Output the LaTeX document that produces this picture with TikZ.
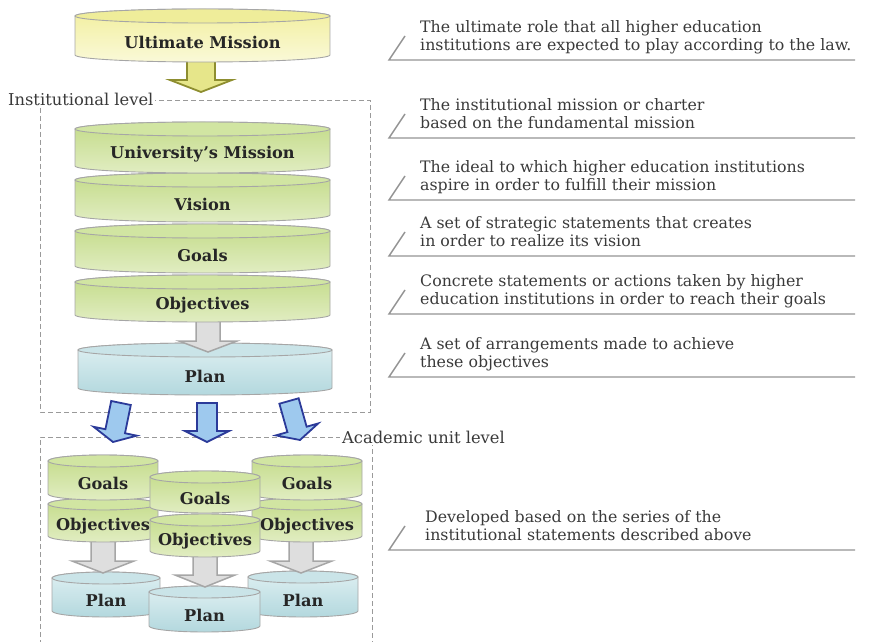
\documentclass[tikz,border=0pt]{standalone}
\usepackage{fontspec}
\setmainfont{DejaVu Serif}
\usetikzlibrary{calc}

\definecolor{rimgrey}{HTML}{A6A6A6}
\definecolor{boxgrey}{HTML}{9A9A9A}
\definecolor{notegrey}{HTML}{3A3A3A}
\definecolor{yellowdark}{HTML}{F2EF9E}
\definecolor{yellowlight}{HTML}{FAF9D8}
\definecolor{yellowtop}{HTML}{EFED9A}
\definecolor{greendark}{HTML}{C3DB88}
\definecolor{greenlight}{HTML}{E1EDC2}
\definecolor{greentop}{HTML}{D1E5A2}
\definecolor{bluelight}{HTML}{DFF0F2}
\definecolor{bluedark}{HTML}{B3D8DE}
\definecolor{bluetop}{HTML}{CAE4E8}
\definecolor{olive}{HTML}{8E8E30}
\definecolor{olivefill}{HTML}{E6E68A}
\definecolor{navy}{HTML}{2B3A99}
\definecolor{skyfill}{HTML}{9EC9EE}

\tikzset{
  yellow body/.style={draw=rimgrey, line width=0.9pt, top color=yellowdark, bottom color=yellowlight},
  yellow top/.style={draw=rimgrey, line width=0.9pt, fill=yellowtop},
  green body/.style={draw=rimgrey, line width=0.9pt, top color=greendark, bottom color=greenlight},
  green top/.style={draw=rimgrey, line width=0.9pt, fill=greentop},
  blue body/.style={draw=rimgrey, line width=0.9pt, top color=bluelight, bottom color=bluedark},
  blue top/.style={draw=rimgrey, line width=0.9pt, fill=bluetop},
  drum text/.style={font=\bfseries\fontsize{16.2}{18}\selectfont, text=black!85, inner sep=0pt},
  note text/.style={font=\fontsize{15.8}{18.5}\selectfont, text=notegrey, align=left, inner sep=0pt},
  leader/.style={draw=gray!85, line width=1.4pt},
  level box/.style={draw=boxgrey, line width=0.9pt, dash pattern=on 5pt off 3pt},
  level label/.style={fill=white, inner sep=2pt, font=\fontsize{16.3}{18.5}\selectfont, text=notegrey},
  grey arrow/.style={draw=rimgrey, fill=black!13, line width=1.5pt},
  olive arrow/.style={draw=olive, fill=olivefill, line width=1.8pt},
  sky arrow/.style={draw=navy, fill=skyfill, line width=1.8pt}
}

% drum: name, left, right, top y, bottom y (from the top edge), ry, colour, text
\newcommand{\drum}[8]{%
  \pgfmathsetmacro\drL{#2}\pgfmathsetmacro\drR{#3}%
  \pgfmathsetmacro\drT{641-#4}\pgfmathsetmacro\drB{641-#5}%
  \pgfmathsetmacro\drX{(#3-#2)/2}\pgfmathsetmacro\drC{(#3+#2)/2}%
  \pgfmathsetmacro\drM{641-(#4+#5)/2-#6}%
  \path[#7 body] (\drL,\drT) -- (\drL,\drB)
    arc[start angle=180, end angle=360, x radius=\drX, y radius=#6]
    -- (\drR,\drT)
    arc[start angle=0, end angle=180, x radius=\drX, y radius=#6] -- cycle;
  \path[#7 top] (\drC,\drT) ellipse[x radius=\drX, y radius=#6];
  \node[drum text] (#1) at (\drC,\drM) {#8};
}

% block arrow: style, tail, tip, shaft half width, head half width, head length
\newcommand{\blockarrow}[6]{%
  \coordinate (ab) at ($(#3)!#6pt!(#2)$);
  \path[#1] ($(#2)!#4pt!90:(#3)$) -- ($(ab)!#4pt!90:(#3)$) -- ($(ab)!#5pt!90:(#3)$) -- (#3)
    -- ($(ab)!#5pt!-90:(#3)$) -- ($(ab)!#4pt!-90:(#3)$) -- ($(#2)!#4pt!-90:(#3)$) -- cycle;
}

% explanation on the right: name, line y, text x, first line, second line
\newcommand{\explain}[5]{%
  \draw[leader] (405,#2+24) -- (389,#2) -- (855,#2);
  \node[note text, anchor=west] (#1) at (#3,#2+22) {\strut #4\\\strut #5};
}

\begin{document}
\begin{tikzpicture}[x=1pt, y=1pt, line join=miter]
  \useasboundingbox (0,0) rectangle (886,641);

  % levels
  \draw[level box] (40,541) rectangle (370,229);
  \node[level label, anchor=west] (inst) at (6,542) {Institutional level};
  \draw[level box] (40,-20) -- (40,204) -- (372,204) -- (372,-20);
  \node[level label, anchor=west] (acad) at (340,204) {Academic unit level};

  % ultimate mission
  \coordinate (um-tail) at (201,583);
  \coordinate (um-tip) at (201,549);
  \blockarrow{olive arrow}{um-tail}{um-tip}{14}{31}{12}
  \drum{ultimate}{75}{330}{16}{55}{7}{yellow}{Ultimate Mission}

  % institutional stack, bottom up
  \drum{plan}{78}{332}{350}{388}{7}{blue}{Plan}
  \coordinate (obj-tail) at (208,323);
  \coordinate (obj-tip) at (208,289);
  \blockarrow{grey arrow}{obj-tail}{obj-tip}{12}{29}{11}
  \drum{objectives}{75}{330}{282}{315}{7}{green}{Objectives}
  \drum{goals}{75}{330}{231}{266}{7}{green}{Goals}
  \drum{vision}{75}{330}{180}{215}{7}{green}{Vision}
  \drum{mission}{75}{330}{129}{166}{7}{green}{University’s Mission}

  % down to the academic units
  \coordinate (l-tail) at (121,238);
  \coordinate (l-tip) at (113,199);
  \coordinate (m-tail) at (207,238);
  \coordinate (m-tip) at (207,199);
  \coordinate (r-tail) at (289,240);
  \coordinate (r-tip) at (300,201);
  \blockarrow{sky arrow}{l-tail}{l-tip}{10}{22}{11}
  \blockarrow{sky arrow}{m-tail}{m-tip}{10}{22}{11}
  \blockarrow{sky arrow}{r-tail}{r-tip}{10}{22}{11}

  % left unit
  \drum{plan-l}{52}{160}{578}{611}{6}{blue}{Plan}
  \coordinate (obj-l-tail) at (103,105);
  \coordinate (obj-l-tip) at (103,68);
  \blockarrow{grey arrow}{obj-l-tail}{obj-l-tip}{12}{31}{12}
  \drum{objectives-l}{48}{158}{504}{536}{6}{green}{Objectives}
  \drum{goals-l}{48}{158}{461}{494}{6}{green}{Goals}

  % right unit
  \drum{plan-r}{248}{358}{577}{611}{6}{blue}{Plan}
  \coordinate (obj-r-tail) at (301,105);
  \coordinate (obj-r-tip) at (301,68);
  \blockarrow{grey arrow}{obj-r-tail}{obj-r-tip}{12}{31}{12}
  \drum{objectives-r}{252}{362}{504}{536}{6}{green}{Objectives}
  \drum{goals-r}{252}{362}{461}{494}{6}{green}{Goals}

  % middle unit
  \drum{plan-m}{149}{260}{592}{626}{6}{blue}{Plan}
  \coordinate (obj-m-tail) at (205,90);
  \coordinate (obj-m-tip) at (205,54);
  \blockarrow{grey arrow}{obj-m-tail}{obj-m-tip}{12}{30}{12}
  \drum{objectives-m}{150}{260}{520}{551}{6}{green}{Objectives}
  \drum{goals-m}{150}{260}{477}{507}{6}{green}{Goals}

  % explanations
  \explain{ultimate-note}{581}{420}{The ultimate role that all higher education}{institutions are expected to play according to the law.}
  \explain{mission-note}{503}{420}{The institutional mission or charter}{based on the fundamental mission}
  \explain{vision-note}{441}{420}{The ideal to which higher education institutions}{aspire in order to fulfill their mission}
  \explain{goals-note}{385}{420}{A set of strategic statements that creates}{in order to realize its vision}
  \explain{objectives-note}{327}{420}{Concrete statements or actions taken by higher}{education institutions in order to reach their goals}
  \explain{plan-note}{264}{420}{A set of arrangements made to achieve}{these objectives}
  \explain{unit-note}{91}{425}{Developed based on the series of the}{institutional statements described above}
\end{tikzpicture}
\end{document}
